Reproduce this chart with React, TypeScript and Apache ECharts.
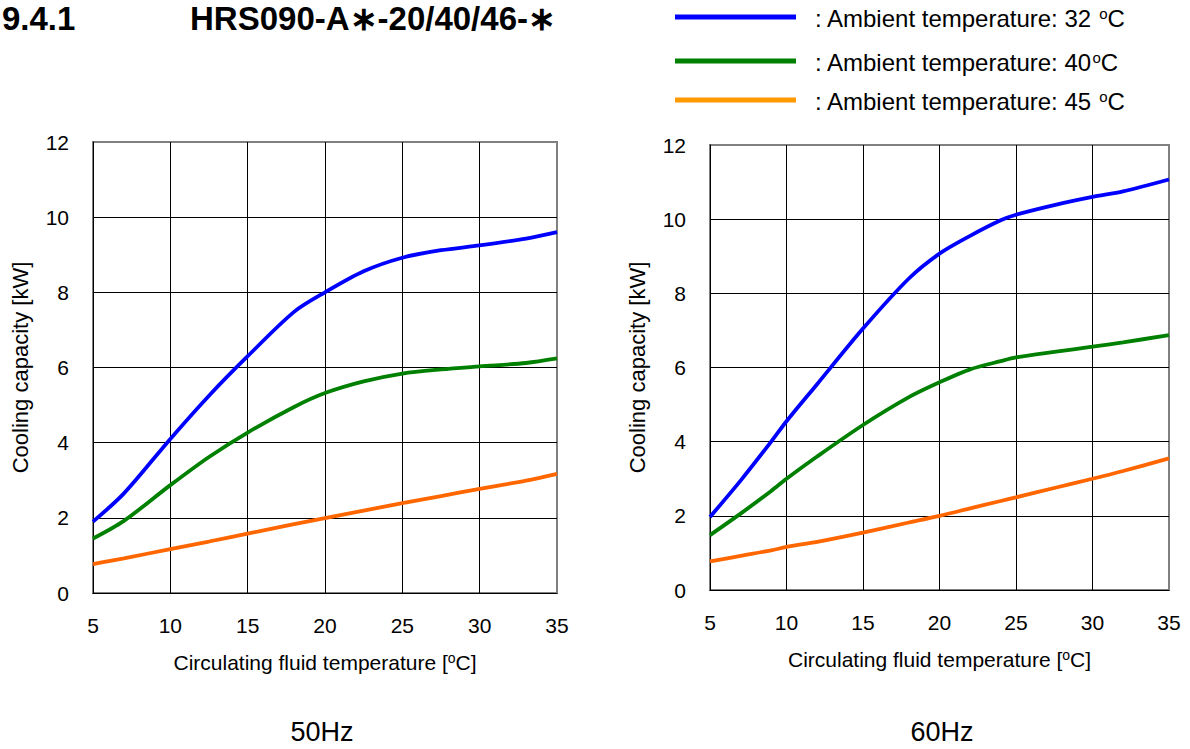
import React, { useEffect, useRef } from "react";
import * as echarts from "echarts";

const FONT = 'Arial, "Liberation Sans", sans-serif';

const xTicks = [5, 10, 15, 20, 25, 30, 35];
const yTicks = [0, 2, 4, 6, 8, 10, 12];

// 50Hz
const xs50 = [5, 7, 10, 12.5, 15, 18, 20, 22.5, 25, 27.5, 30, 33, 35];
const blue50 = [1.9, 2.65, 4.1, 5.25, 6.3, 7.48, 8.0, 8.56, 8.92, 9.12, 9.25, 9.43, 9.6];
const green50 = [1.45, 1.92, 2.87, 3.62, 4.27, 4.95, 5.32, 5.63, 5.84, 5.95, 6.03, 6.12, 6.24];
const orange50 = [0.77, 0.92, 1.17, 1.37, 1.58, 1.83, 1.99, 2.19, 2.39, 2.58, 2.77, 2.99, 3.17];

// 60Hz
const xs60 = [5, 7, 9, 10, 12, 15, 18, 20, 22, 24, 25, 27.5, 30, 32, 35];
const blue60 = [1.97, 2.95, 4.0, 4.55, 5.55, 7.05, 8.4, 9.07, 9.55, 9.97, 10.12, 10.38, 10.6, 10.75, 11.07];
const green60 = [1.48, 2.06, 2.67, 3.0, 3.6, 4.45, 5.2, 5.6, 5.95, 6.17, 6.27, 6.42, 6.56, 6.68, 6.87];
const orange60 = [0.77, 0.92, 1.07, 1.16, 1.3, 1.55, 1.82, 2.0, 2.2, 2.4, 2.5, 2.75, 3.0, 3.21, 3.55];

const seriesNames = [
  "Ambient temperature: 32 °C",
  "Ambient temperature: 40°C",
  "Ambient temperature: 45 °C",
];
const legendTexts = [
  ": Ambient temperature: 32 {sup|o}C",
  ": Ambient temperature: 40{sup|o}C",
  ": Ambient temperature: 45 {sup|o}C",
];
const lineColors = ["#0000ff", "#008000", "#ff6600"];
const legendColors = ["#0000ff", "#008000", "#ff9900"];
const panelLabels = ["50Hz", "60Hz"];

const xName = "Circulating fluid temperature [{sup|o}C]";
const yName = "Cooling capacity [kW]";

export default function App() {
  const ref = useRef<HTMLDivElement>(null);
  useEffect(() => {
    document.body.style.margin = "0";
    const chart = echarts.init(ref.current!, null, { renderer: "svg" });
    const supRich = { sup: { fontSize: 14, padding: [0, 0, 9, 0], color: "#000", fontFamily: FONT } };
    const grids = [
      { left: 93, top: 142, width: 464, height: 451 },
      { left: 710, top: 145, width: 459, height: 445 },
    ];
    const xAxes = grids.map((_, i) => ({
      gridIndex: i,
      type: "value",
      min: xTicks[0],
      max: xTicks[xTicks.length - 1],
      interval: xTicks[1] - xTicks[0],
      axisLine: { show: true, lineStyle: { color: "#000", width: 1 } },
      axisTick: { show: false },
      axisLabel: { color: "#000", fontSize: 21, margin: 22, fontFamily: FONT },
      splitLine: { show: true, showMaxLine: false, lineStyle: { color: "#000", width: 1 } },
      name: xName,
      nameLocation: "middle",
      nameGap: 58,
      nameTextStyle: { color: "#000", fontSize: 21, fontFamily: FONT, rich: supRich },
    }));
    const yAxes = grids.map((_, i) => ({
      gridIndex: i,
      type: "value",
      min: yTicks[0],
      max: yTicks[yTicks.length - 1],
      interval: yTicks[1] - yTicks[0],
      axisLine: { show: true, lineStyle: { color: "#000", width: 1 } },
      axisTick: { show: false },
      axisLabel: { color: "#000", fontSize: 21, margin: 24, fontFamily: FONT },
      splitLine: { show: true, showMaxLine: false, lineStyle: { color: "#000", width: 1 } },
      name: yName,
      nameLocation: "middle",
      nameGap: 62,
      nameTextStyle: { color: "#000", fontSize: 22, fontFamily: FONT },
    }));
    const panels = [
      { xs: xs50, ys: [blue50, green50, orange50] },
      { xs: xs60, ys: [blue60, green60, orange60] },
    ];
    const series: any[] = [];
    panels.forEach((p, gi) => {
      p.ys.forEach((ys, si) => {
        series.push({
          name: seriesNames[si],
          type: "line",
          xAxisIndex: gi,
          yAxisIndex: gi,
          data: p.xs.map((x, k) => [x, ys[k]]),
          showSymbol: false,
          smooth: 0.3,
          lineStyle: { color: lineColors[si], width: 3.8 },
          itemStyle: { color: lineColors[si] },
          z: 5,
        });
      });
    });
    const legendY = [17, 61, 100];
    const graphic: any[] = [
      {
        type: "text",
        x: 2,
        y: 2,
        style: { text: "9.4.1", font: `bold 33px ${FONT}`, fill: "#000", verticalAlign: "top" },
      },
      {
        type: "text",
        x: 190,
        y: 2,
        style: { text: "HRS090-A\u2217-20/40/46-\u2217", font: `bold 33px ${FONT}`, fill: "#000", verticalAlign: "top" },
      },
    ];
    legendY.forEach((y, i) => {
      graphic.push({
        type: "line",
        shape: { x1: 675, y1: y, x2: 796, y2: y },
        style: { stroke: legendColors[i], lineWidth: 5 },
      });
      graphic.push({
        type: "text",
        x: 815,
        y: y + 1,
        style: {
          text: legendTexts[i],
          font: `24px ${FONT}`,
          fill: "#000",
          verticalAlign: "middle",
          rich: { sup: { fontSize: 15, padding: [0, 0, 10, 0], fill: "#000", fontFamily: FONT } },
        },
      });
    });
    [322, 942].forEach((cx, i) => {
      graphic.push({
        type: "text",
        x: cx,
        y: 732,
        style: { text: panelLabels[i], font: `27px ${FONT}`, fill: "#000", align: "center", verticalAlign: "middle" },
      });
    });
    chart.setOption({
      animation: false,
      backgroundColor: "#fff",
      textStyle: { fontFamily: FONT },
      grid: grids.map((g) => ({ ...g, show: true, borderColor: "#808080", borderWidth: 2, backgroundColor: "transparent" })),
      xAxis: xAxes,
      yAxis: yAxes,
      series,
      graphic,
    });
    return () => chart.dispose();
  }, []);
  return <div ref={ref} style={{ width: 1190, height: 749 }} />;
}
